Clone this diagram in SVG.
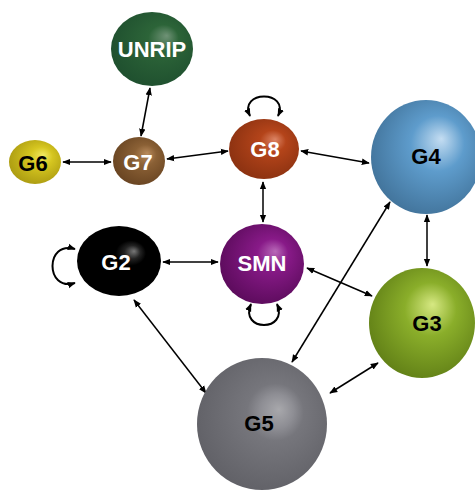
<svg xmlns="http://www.w3.org/2000/svg" width="475" height="491" viewBox="0 0 475 491">
<defs>
<style>
.lbl{font-family:"Liberation Sans",Arial,sans-serif;font-weight:bold;text-anchor:middle;dominant-baseline:central;font-size:22px}
.w{fill:#fff}
.b{fill:#000}
.e{fill:none;stroke:#000;stroke-width:1.5;marker-start:url(#ah);marker-end:url(#ah)}
.l{fill:none;stroke:#000;stroke-width:2;marker-start:url(#ah);marker-end:url(#ah)}
</style>
<marker id="ah" viewBox="0 0 10 10" refX="9" refY="5" markerWidth="8" markerHeight="8" orient="auto-start-reverse" markerUnits="userSpaceOnUse">
<path d="M0,1 L10,5 L0,9 z" fill="#000"/>
</marker>
<radialGradient id="gUN" cx="0.55" cy="0.45" r="0.62" fx="0.68" fy="0.32"><stop offset="0" stop-color="#6f9276"/><stop offset="0.3" stop-color="#2c6438"/><stop offset="1" stop-color="#1e4e2e"/></radialGradient>
<radialGradient id="gG7" cx="0.55" cy="0.45" r="0.62" fx="0.66" fy="0.34"><stop offset="0" stop-color="#b88a5c"/><stop offset="0.35" stop-color="#8a6035"/><stop offset="1" stop-color="#664220"/></radialGradient>
<radialGradient id="gG6" cx="0.55" cy="0.45" r="0.62" fx="0.66" fy="0.34"><stop offset="0" stop-color="#f0e860"/><stop offset="0.35" stop-color="#d6c620"/><stop offset="1" stop-color="#a89810"/></radialGradient>
<radialGradient id="gG8" cx="0.55" cy="0.45" r="0.62" fx="0.66" fy="0.34"><stop offset="0" stop-color="#dc8464"/><stop offset="0.3" stop-color="#b4441a"/><stop offset="1" stop-color="#883010"/></radialGradient>
<radialGradient id="gG4" cx="0.55" cy="0.45" r="0.64" fx="0.64" fy="0.34"><stop offset="0" stop-color="#c4ddf2"/><stop offset="0.38" stop-color="#5e9ccc"/><stop offset="1" stop-color="#3e6e94"/></radialGradient>
<radialGradient id="gG2" cx="0.55" cy="0.45" r="0.6" fx="0.68" fy="0.36"><stop offset="0" stop-color="#777"/><stop offset="0.16" stop-color="#222"/><stop offset="0.3" stop-color="#000"/><stop offset="1" stop-color="#000"/></radialGradient>
<radialGradient id="gSMN" cx="0.55" cy="0.45" r="0.62" fx="0.66" fy="0.34"><stop offset="0" stop-color="#b868b8"/><stop offset="0.3" stop-color="#881a88"/><stop offset="1" stop-color="#580a58"/></radialGradient>
<radialGradient id="gG3" cx="0.55" cy="0.45" r="0.64" fx="0.6" fy="0.33"><stop offset="0" stop-color="#d6e882"/><stop offset="0.38" stop-color="#8aae2a"/><stop offset="1" stop-color="#5c7a14"/></radialGradient>
<radialGradient id="gG5" cx="0.55" cy="0.45" r="0.64" fx="0.63" fy="0.39"><stop offset="0" stop-color="#a8a8ac"/><stop offset="0.2" stop-color="#8e8e94"/><stop offset="0.34" stop-color="#76767c"/><stop offset="1" stop-color="#5e5e64"/></radialGradient>
</defs>
<g id="connectors">
<line class="e" x1="150" y1="88" x2="141" y2="136"/>
<line class="e" x1="63" y1="162" x2="111" y2="162"/>
<line class="e" x1="167" y1="159" x2="228" y2="151"/>
<line class="e" x1="301" y1="151" x2="369" y2="163"/>
<line class="e" x1="263" y1="182" x2="263" y2="222"/>
<path class="l" d="M250,116 C238,90 290,90 278,116"/>
<line class="e" x1="163" y1="262" x2="218" y2="262"/>
<path class="l" d="M75,249 C45,240 45,292 75,283"/>
<path class="l" d="M251,304 C239,332 289,332 277,304"/>
<line class="e" x1="307" y1="268" x2="372" y2="296"/>
<line class="e" x1="427" y1="215" x2="427" y2="266"/>
<line class="e" x1="134" y1="300" x2="206" y2="393"/>
<line class="e" x1="292" y1="362" x2="390" y2="202"/>
<line class="e" x1="330" y1="393" x2="378" y2="363"/>
</g>
<g id="UNRIP"><ellipse cx="152" cy="49" rx="41" ry="37" fill="url(#gUN)"/><text class="lbl w" x="152" y="49" font-size="21">UNRIP</text></g>
<g id="G7"><ellipse cx="139" cy="161" rx="26" ry="24" fill="url(#gG7)"/><text class="lbl w" x="138" y="162">G7</text></g>
<g id="G6"><ellipse cx="35" cy="162" rx="26" ry="22" fill="url(#gG6)"/><text class="lbl b" x="33" y="163">G6</text></g>
<g id="G8"><ellipse cx="264" cy="149" rx="35" ry="30" fill="url(#gG8)"/><text class="lbl w" x="265" y="149">G8</text></g>
<g id="G4"><ellipse cx="426" cy="157" rx="55" ry="57" fill="url(#gG4)"/><text class="lbl b" x="426" y="156">G4</text></g>
<g id="G2"><ellipse cx="119" cy="261" rx="42" ry="35" fill="url(#gG2)"/><text class="lbl w" x="116" y="262">G2</text></g>
<g id="SMN"><ellipse cx="262" cy="264" rx="42" ry="40" fill="url(#gSMN)"/><text class="lbl w" x="262" y="263">SMN</text></g>
<g id="G3"><ellipse cx="422" cy="323" rx="53" ry="55" fill="url(#gG3)"/><text class="lbl b" x="427" y="323">G3</text></g>
<g id="G5"><ellipse cx="262" cy="424" rx="65" ry="66" fill="url(#gG5)"/><text class="lbl b" x="259" y="423">G5</text></g>
</svg>
